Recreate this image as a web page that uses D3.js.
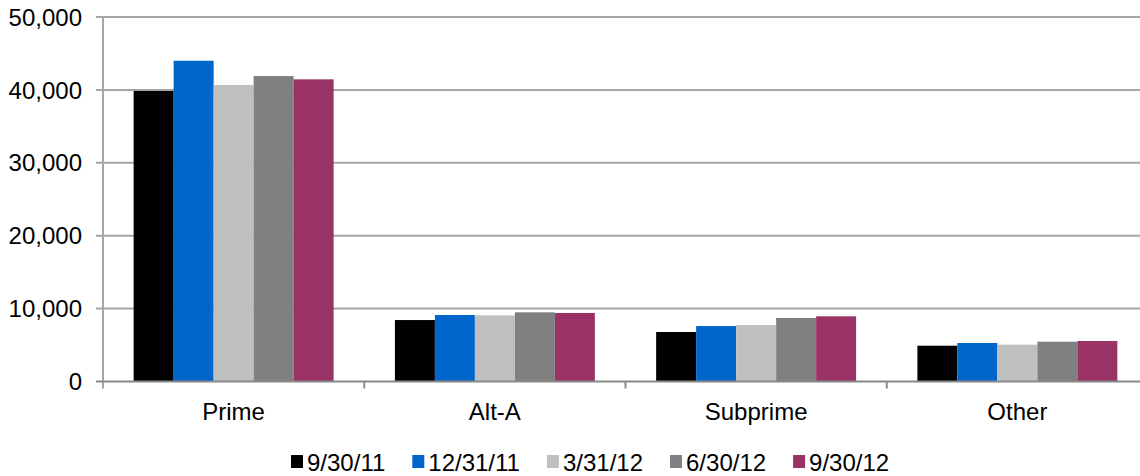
<!DOCTYPE html>
<html>
<head>
<meta charset="UTF-8">
<title>Loans by category</title>
<script src="https://d3js.org/d3.v7.min.js"></script>
<style>
body { margin: 0; background: #fff; }
svg text { font-family: "Liberation Sans", Arial, sans-serif; font-size: 24px; fill: #000; }
</style>
</head>
<body>
<svg width="1140" height="476"></svg>
<script>
// categories and quarter-end dates
var categories = ["Prime", "Alt-A", "Subprime", "Other"];
var series = ["9/30/11", "12/31/11", "3/31/12", "6/30/12", "9/30/12"];
var colors = ["#000000", "#0066cc", "#c0c0c0", "#808080", "#993366"];

// values per series, in category order
var v_093011 = [39850, 8430, 6790, 4910];
var v_123111 = [44000, 9120, 7610, 5280];
var v_033112 = [40680, 9080, 7750, 5050];
var v_063012 = [41900, 9490, 8710, 5460];
var v_093012 = [41450, 9400, 8940, 5560];
var values = [v_093011, v_123111, v_033112, v_063012, v_093012];

var yTicks = [0, 10000, 20000, 30000, 40000, 50000];

var svg = d3.select("svg");

// plot runs off the right edge, like the original
var plotLeft = 103, plotRight = 1148, plotTop = 17, plotBottom = 381.5;

var x0 = d3.scaleBand().domain(categories).range([plotLeft, plotRight])
  .paddingInner(0.2346).paddingOuter(0.1173);
var x1 = d3.scaleBand().domain(series).range([0, x0.bandwidth()]);
var y = d3.scaleLinear().domain([0, 50000]).range([plotBottom, plotTop]);
var color = d3.scaleOrdinal(series, colors);
var step = x0.step();

// gridlines
svg.append("g").selectAll("line")
  .data(yTicks.filter(function(d) { return d > 0; }))
  .enter().append("line")
  .attr("x1", plotLeft - 7).attr("x2", 1140)
  .attr("y1", function(d) { return y(d); }).attr("y2", function(d) { return y(d); })
  .attr("stroke", "#a6a6a6").attr("stroke-width", 2);

// y labels
svg.append("g").selectAll("text")
  .data(yTicks).enter().append("text")
  .attr("x", 82).attr("y", function(d) { return y(d); })
  .attr("dy", "0.36em")
  .attr("text-anchor", "end")
  .text(function(d) { return d3.format(",")(d); });

// bars
var rows = [];
categories.forEach(function(c, ci) {
  series.forEach(function(s, si) {
    rows.push({ cat: c, ser: s, val: values[si][ci] });
  });
});

svg.append("g").selectAll("rect")
  .data(rows).enter().append("rect")
  .attr("x", function(d) { return x0(d.cat) + x1(d.ser); })
  .attr("width", x1.bandwidth())
  .attr("y", function(d) { return y(d.val); })
  .attr("height", function(d) { return y(0) - y(d.val); })
  .attr("fill", function(d) { return color(d.ser); });

// y axis line
svg.append("line")
  .attr("x1", plotLeft).attr("x2", plotLeft).attr("y1", plotTop).attr("y2", plotBottom + 7)
  .attr("stroke", "#a6a6a6").attr("stroke-width", 2);

// x axis line + ticks
svg.append("line")
  .attr("x1", plotLeft - 7).attr("x2", 1140).attr("y1", plotBottom).attr("y2", plotBottom)
  .attr("stroke", "#888").attr("stroke-width", 2);

svg.append("g").selectAll("line")
  .data(categories.slice(1)).enter().append("line")
  .attr("x1", function(d) { return x0(d) - step * 0.1173; })
  .attr("x2", function(d) { return x0(d) - step * 0.1173; })
  .attr("y1", plotBottom).attr("y2", plotBottom + 7)
  .attr("stroke", "#888").attr("stroke-width", 2);

// category labels
svg.append("g").selectAll("text")
  .data(categories).enter().append("text")
  .attr("x", function(d) { return x0(d) + x0.bandwidth() / 2; })
  .attr("y", 411).attr("dy", "0.36em")
  .attr("text-anchor", "middle")
  .text(function(d) { return d; });

// legend
var legend = svg.append("g");
var lx = 291;
series.forEach(function(s) {
  legend.append("rect")
    .attr("x", lx).attr("y", 455).attr("width", 12).attr("height", 13)
    .attr("fill", color(s));
  var t = legend.append("text")
    .attr("x", lx + 16).attr("y", 462).attr("dy", "0.36em")
    .text(s);
  lx += 16 + t.node().getComputedTextLength() + 27;
});
</script>
</body>
</html>
